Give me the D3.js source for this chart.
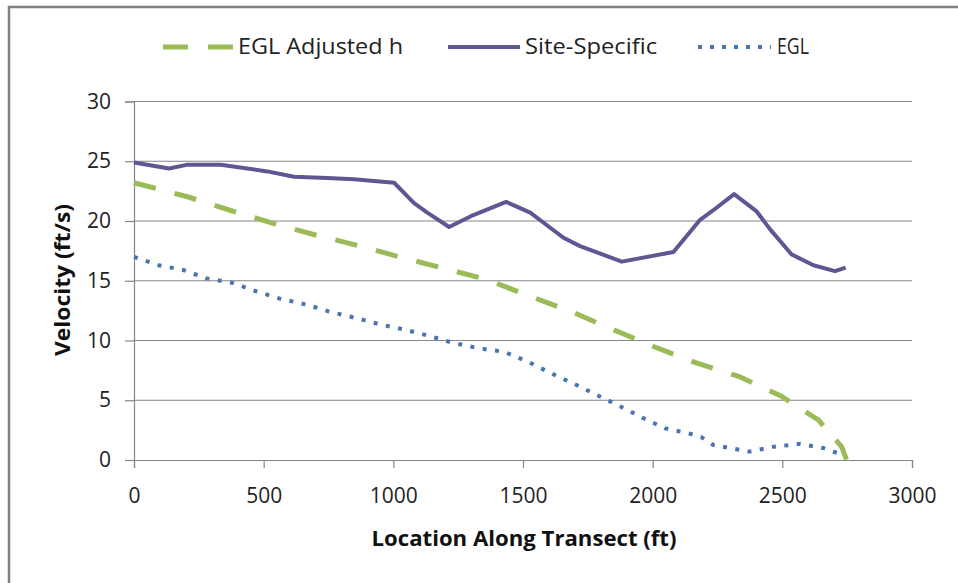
<!DOCTYPE html>
<html>
<head>
<meta charset="utf-8">
<script src="https://d3js.org/d3.v7.min.js"></script>
<style>
  body { margin: 0; background: #fff; }
  svg { display: block; font-family: "Open Sans", "Noto Sans", sans-serif; }
</style>
</head>
<body>
<svg id="chart" width="958" height="583"></svg>
<script>
// values
var siteX = [0, 135, 203, 335, 514, 617, 745, 848, 1003, 1080, 1131, 1215, 1299, 1435, 1528, 1656, 1720, 1881, 2080, 2183, 2234, 2314, 2401, 2453, 2536, 2620, 2703, 2744];
var siteV = [24.9, 24.4, 24.7, 24.7, 24.15, 23.7, 23.6, 23.5, 23.2, 21.5, 20.7, 19.5, 20.4, 21.6, 20.7, 18.6, 17.9, 16.6, 17.4, 20.1, 20.9, 22.25, 20.8, 19.3, 17.2, 16.3, 15.8, 16.1];

var adjX = [0, 203, 370, 537, 705, 872, 1040, 1193, 1360, 1528, 1688, 1849, 2003, 2171, 2331, 2491, 2639, 2729, 2748];
var adjV = [23.2, 22.05, 20.9, 19.8, 18.8, 17.9, 16.9, 16.05, 15.1, 13.7, 12.4, 10.9, 9.5, 8.1, 7.0, 5.4, 3.35, 1.1, 0];

var eglX = [0, 94, 190, 280, 383, 473, 563, 666, 756, 852, 949, 1045, 1135, 1231, 1328, 1428, 1521, 1604, 1694, 1784, 1874, 1964, 2048, 2144, 2189, 2234, 2324, 2372, 2465, 2568, 2658, 2710];
var eglV = [17.0, 16.3, 15.9, 15.2, 14.8, 14.1, 13.5, 13.0, 12.4, 11.9, 11.35, 10.9, 10.4, 9.8, 9.35, 9.05, 8.2, 7.3, 6.4, 5.45, 4.5, 3.5, 2.65, 2.2, 1.9, 1.25, 0.9, 0.7, 1.1, 1.35, 1.0, 0.6];

var xTicks = [0, 500, 1000, 1500, 2000, 2500, 3000];
var yTicks = [0, 5, 10, 15, 20, 25, 30];

var seriesNames = ["EGL Adjusted h", "Site-Specific", "EGL"];

var svg = d3.select("#chart");

// outer frame (only top and left edges fall inside the picture)
svg.append("path")
    .attr("d", "M9,600 V7 H980")
    .attr("fill", "none")
    .attr("stroke", "#808080")
    .attr("stroke-width", 2.5);

var x = d3.scaleLinear([0, 3000], [134, 912]);
var y = d3.scaleLinear([0, 30], [460, 101.5]);

// gridlines
svg.append("g")
    .selectAll("line")
    .data(yTicks.slice(1))
    .join("line")
    .attr("x1", x(0)).attr("x2", x(3000))
    .attr("y1", d => y(d)).attr("y2", d => y(d))
    .attr("stroke", "#868686")
    .attr("stroke-width", 1.2);

// axes
var xAxis = svg.append("g")
    .attr("transform", "translate(0," + y(0) + ")")
    .call(d3.axisBottom(x).tickValues(xTicks).tickSize(8).tickPadding(20).tickFormat(d3.format("d")));
var yAxis = svg.append("g")
    .attr("transform", "translate(" + x(0) + ",0)")
    .call(d3.axisLeft(y).tickValues(yTicks).tickSize(9).tickPadding(14).tickFormat(d3.format("d")));

[xAxis, yAxis].forEach(function (a) {
    a.select(".domain").attr("stroke", "#868686").attr("stroke-width", 1.2);
    a.selectAll(".tick line").attr("stroke", "#868686").attr("stroke-width", 1.2);
    a.selectAll(".tick text")
        .attr("fill", "#222")
        .style("font-size", "21px")
        .style("font-family", "Open Sans");
});

// axis titles
svg.append("text")
    .attr("x", 524).attr("y", 546)
    .attr("text-anchor", "middle")
    .attr("textLength", 305).attr("lengthAdjust", "spacingAndGlyphs")
    .style("font-size", "22px").style("font-weight", "bold")
    .attr("fill", "#111")
    .text("Location Along Transect (ft)");

svg.append("text")
    .attr("transform", "translate(70,280) rotate(-90)")
    .attr("text-anchor", "middle")
    .attr("textLength", 152).attr("lengthAdjust", "spacingAndGlyphs")
    .style("font-size", "22px").style("font-weight", "bold")
    .attr("fill", "#111")
    .text("Velocity (ft/s)");

// lines
var line = d3.line().x(d => x(d[0])).y(d => y(d[1]));

var series = [
    { name: seriesNames[1], pts: d3.zip(siteX, siteV), color: "#5E5791", width: 4, dash: null },
    { name: seriesNames[0], pts: d3.zip(adjX, adjV), color: "#9BBB59", width: 5, dash: [22, 19] },
    { name: seriesNames[2], pts: d3.zip(eglX, eglV), color: "#4A74B0", width: 4, dash: [4, 8.5] }
];

svg.append("g")
    .selectAll("path")
    .data(series)
    .join("path")
    .attr("d", d => line(d.pts))
    .attr("fill", "none")
    .attr("stroke", d => d.color)
    .attr("stroke-width", d => d.width)
    .attr("stroke-linejoin", "round")
    .each(function (d) {
        if (!d.dash) return;
        // stretch the pattern a little so the line ends on a full dash
        var L = this.getTotalLength();
        var p = d.dash[0] + d.dash[1];
        var n = Math.round((L + d.dash[1]) / p);
        var k = (L + d.dash[1]) / (n * p);
        d3.select(this).attr("stroke-dasharray", (d.dash[0] * k) + " " + (d.dash[1] * k));
    });

// legend
var legend = [
    { name: seriesNames[0], x1: 163, x2: 233, tx: 238, tw: 165, color: "#9BBB59", width: 5, dash: "25 20" },
    { name: seriesNames[1], x1: 448, x2: 520, tx: 525, tw: 132, color: "#5E5791", width: 4, dash: null },
    { name: seriesNames[2], x1: 698, x2: 771, tx: 777, tw: 32, color: "#4A74B0", width: 4, dash: "4 8" }
];

var lg = svg.append("g").selectAll("g").data(legend).join("g");
lg.append("line")
    .attr("x1", d => d.x1).attr("x2", d => d.x2)
    .attr("y1", 47).attr("y2", 47)
    .attr("stroke", d => d.color)
    .attr("stroke-width", d => d.width)
    .attr("stroke-dasharray", d => d.dash);
lg.append("text")
    .attr("x", d => d.tx).attr("y", 53.5)
    .attr("textLength", d => d.tw).attr("lengthAdjust", "spacingAndGlyphs")
    .style("font-size", "21px")
    .attr("fill", "#222")
    .text(d => d.name);
</script>
</body>
</html>
